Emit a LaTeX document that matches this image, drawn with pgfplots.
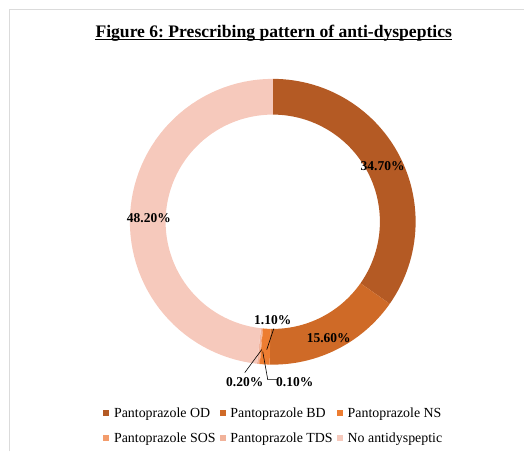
\documentclass[border=0pt]{standalone}
\usepackage{fontspec}
\setmainfont{Liberation Serif}
\usepackage{pgfplots}
\pgfplotsset{compat=1.18}
\usepackage{pgfplotstable}
\frenchspacing

\definecolor{cOD}{HTML}{B45A24}
\definecolor{cBD}{HTML}{CF6A27}
\definecolor{cNS}{HTML}{ED7D31}
\definecolor{cSOS}{HTML}{F39C6C}
\definecolor{cTDS}{HTML}{F1B29A}
\definecolor{cNo}{HTML}{F6C9BC}

\pgfplotstableread{
label value
OD 34.7
BD 15.6
NS 1.1
SOS 0.1
TDS 0.2
No 48.2
}\datatable

% slice: start angle, end angle, colour (outer radius 1, inner radius 0.75)
\newcommand\slice[3]{%
  \addplot[draw=none, fill=#3, forget plot, domain=0:121, samples=122, variable=\t]
  ({ifthenelse(\t<60.5,1,0.75)*cos(ifthenelse(\t<60.5,#1+(#2-#1)*\t/60,#2-(#2-#1)*(\t-61)/60))},
   {ifthenelse(\t<60.5,1,0.75)*sin(ifthenelse(\t<60.5,#1+(#2-#1)*\t/60,#2-(#2-#1)*(\t-61)/60))}) -- cycle;
}

\begin{document}
\begin{tikzpicture}
\pgfplotstablegetelem{0}{value}\of\datatable \let\vA\pgfplotsretval
\pgfplotstablegetelem{1}{value}\of\datatable \let\vB\pgfplotsretval
\pgfplotstablegetelem{2}{value}\of\datatable \let\vC\pgfplotsretval
\pgfplotstablegetelem{3}{value}\of\datatable \let\vD\pgfplotsretval
\pgfplotstablegetelem{4}{value}\of\datatable \let\vE\pgfplotsretval
\pgfplotstablegetelem{5}{value}\of\datatable \let\vF\pgfplotsretval
\pgfmathsetmacro\tot{\vA+\vB+\vC+\vD+\vE+\vF}
\pgfmathsetmacro\aA{90}
\pgfmathsetmacro\aB{\aA-\vA/\tot*360}
\pgfmathsetmacro\aC{\aB-\vB/\tot*360}
\pgfmathsetmacro\aD{\aC-\vC/\tot*360}
\pgfmathsetmacro\aE{\aD-\vD/\tot*360}
\pgfmathsetmacro\aF{\aE-\vE/\tot*360}
\pgfmathsetmacro\aG{\aF-\vF/\tot*360}
\begin{axis}[
  x=143pt, y=143pt,
  xmin=-1.909, xmax=1.755, ymin=-1.608, ymax=1.552,
  hide axis, clip=false,
  legend columns=3,
  legend image code/.code={\fill[#1] (0pt,-3pt) rectangle (6pt,3pt);},
  legend style={at={(axis cs:-1.189,-1.30)}, anchor=north west, draw=none, fill=none,
    inner sep=0pt, font=\fontsize{13.9}{16}\selectfont,
    nodes={inner sep=0pt, anchor=west}, row sep=14pt,
    /tikz/every odd column/.append style={column sep=5pt},
    /tikz/every even column/.append style={column sep=4pt}},
]
\path (axis cs:-1.909,-1.608) rectangle (axis cs:1.755,1.552);
\draw[black!14, line width=1pt] (axis cs:-1.843,-1.608) -- (axis cs:-1.843,1.4825) -- (axis cs:1.755,1.4825);

\slice{\aA}{\aB}{cOD}
\slice{\aB}{\aC}{cBD}
\slice{\aC}{\aD}{cNS}
\slice{\aD}{\aE}{cSOS}
\slice{\aE}{\aF}{cTDS}
\slice{\aF}{\aG}{cNo}

\addlegendimage{fill=cOD, draw=none}\addlegendentry{Pantoprazole OD}
\addlegendimage{fill=cBD, draw=none}\addlegendentry{Pantoprazole BD}
\addlegendimage{fill=cNS, draw=none}\addlegendentry{Pantoprazole NS}
\addlegendimage{fill=cSOS, draw=none}\addlegendentry{Pantoprazole SOS}
\addlegendimage{fill=cTDS, draw=none}\addlegendentry{Pantoprazole TDS}
\addlegendimage{fill=cNo, draw=none}\addlegendentry{No antidyspeptic}

\node[anchor=base, inner sep=0pt, font=\fontsize{17.6}{20}\selectfont\bfseries] (T) at (axis cs:0.007,1.2915) {Figure 6: Prescribing pattern of anti-dyspeptics};
\draw[line width=1.2pt] ([yshift=-2.4pt]T.base west) -- ([yshift=-2.4pt]T.base east);

\begin{scope}[every node/.style={font=\fontsize{13.5}{16}\selectfont\bfseries, inner sep=1pt}]
\node at (axis cs:0.769,0.392) {34.70\%};
\node at (axis cs:-0.867,0.028) {48.20\%};
\node at (axis cs:0.392,-0.811) {15.60\%};
\node at (axis cs:0,-0.685) {1.10\%};
\node at (axis cs:-0.196,-1.119) {0.20\%};
\node at (axis cs:0.154,-1.119) {0.10\%};
\end{scope}
\draw[line width=0.6pt] (axis cs:0.007,-0.748) -- (axis cs:-0.042,-0.895);
\draw[line width=0.6pt] (axis cs:-0.196,-1.056) -- (axis cs:-0.077,-0.895);
\draw[line width=0.6pt] (axis cs:0.028,-1.105) -- (axis cs:-0.035,-1.105) -- (axis cs:-0.070,-0.909);
\end{axis}
\end{tikzpicture}
\end{document}
